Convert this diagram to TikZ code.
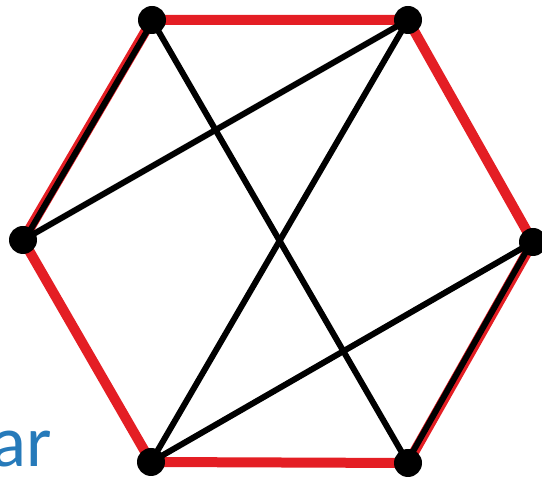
\documentclass[tikz,border=0pt]{standalone}
\usepackage{fontspec}
\setmainfont{Carlito}
\definecolor{hexred}{RGB}{228,30,36}
\definecolor{textblue}{RGB}{38,122,186}
\tikzset{
  vtx/.style={circle,fill=black,inner sep=0pt,minimum size=28pt},
  redge/.style={draw=hexred,line width=10pt},
  bedge/.style={draw=black,line width=6pt},
}
\begin{document}
\begin{tikzpicture}[x=1pt,y=1pt]
\useasboundingbox (0,0) rectangle (542,481);
\clip (0,0) rectangle (542,481);
\coordinate (TL) at (152,461);
\coordinate (TR) at (408,461);
\coordinate (L) at (23,241);
\coordinate (R) at (533,239);
\coordinate (BL) at (151,19);
\coordinate (BR) at (408,18);
\node[anchor=base west,text=textblue,font=\fontsize{73}{73}\selectfont,inner sep=0pt] (lbl) at (-9,14) {ar};
\draw[redge] (TL) -- (TR) -- (R) -- (BR) -- (BL) -- (L) -- cycle;
\draw[bedge] ([xshift=1.5pt]TL) -- ([xshift=1.5pt]L);
\draw[bedge] ([xshift=-1.5pt]R) -- ([xshift=-1.5pt]BR);
\draw[bedge] (TL) -- (BR);
\draw[bedge] (TR) -- (L);
\draw[bedge] (TR) -- (BL);
\draw[bedge] (BL) -- (R);
\foreach \v in {TL,TR,L,R,BL,BR} \node[vtx] (n\v) at (\v) {};
\end{tikzpicture}
\end{document}
